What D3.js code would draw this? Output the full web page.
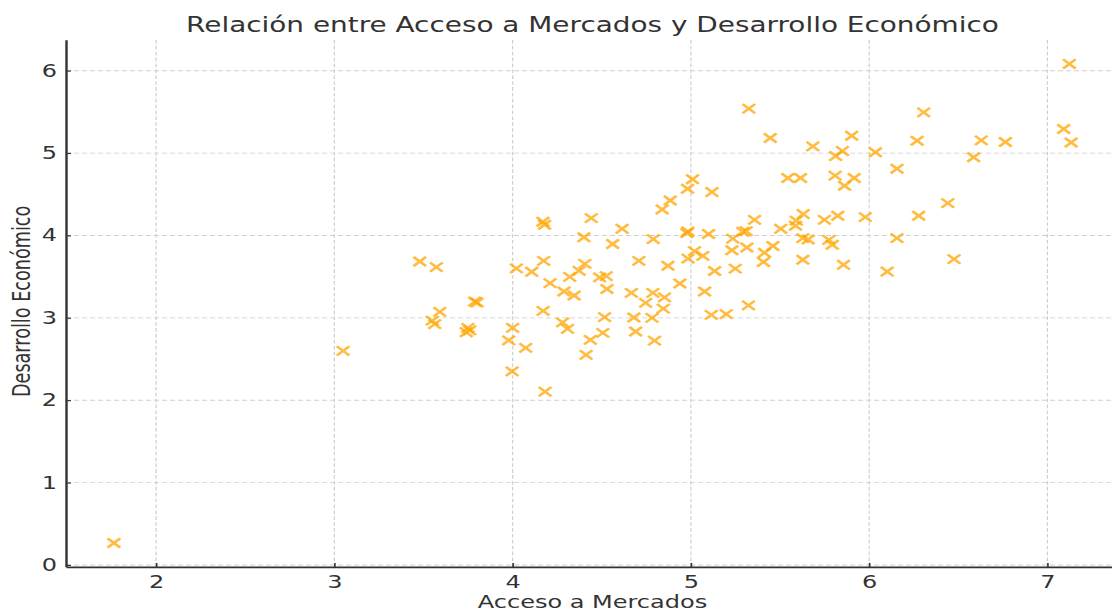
<!DOCTYPE html>
<html>
<head>
<meta charset="utf-8">
<script src="https://cdn.jsdelivr.net/npm/d3@7"></script>
<style>
  body { margin: 0; background: #fff; overflow: hidden; }
  svg { display: block; }
  text { font-family: "DejaVu Sans", sans-serif; }
</style>
</head>
<body>
<div id="chart"></div>
<script>
// Data
const accesoMercados = [
  1.763, 3.049, 3.479, 3.572, 3.591, 3.549, 3.563, 3.787, 3.800, 3.749,
  3.740, 3.759, 4.000, 3.978, 4.073, 3.997, 4.182, 4.170, 4.179, 4.021,
  4.107, 4.174, 4.210, 4.171, 4.280, 4.308, 4.436, 4.506, 4.412, 4.441,
  4.400, 4.405, 4.373, 4.320, 4.288, 4.345, 4.488, 4.525, 4.529, 4.516,
  4.614, 4.561, 4.708, 4.666, 4.680, 4.690, 4.789, 4.787, 4.746, 4.852,
  4.845, 4.782, 4.796, 4.871, 4.938, 4.983, 4.977, 4.984, 5.020, 4.839,
  4.884, 4.981, 5.009, 5.325, 5.445, 5.684, 5.902, 5.850, 5.812, 6.035,
  6.306, 6.269, 6.156, 6.629, 6.586, 6.441, 6.278, 5.978, 6.156, 6.476,
  6.101, 5.856, 5.544, 5.615, 5.809, 5.916, 5.862, 5.118, 5.357, 5.630,
  5.591, 5.587, 5.749, 5.824, 5.504, 5.291, 5.310, 5.235, 5.099, 5.628,
  5.658, 5.774, 5.793, 5.460, 5.314, 5.230, 5.413, 5.407, 5.067, 5.628,
  5.133, 5.249, 5.077, 5.323, 5.114, 5.198, 7.123, 7.091, 7.133, 6.764
];
const desarrolloEconomico = [
  0.267, 2.599, 3.684, 3.616, 3.073, 2.967, 2.924, 3.198, 3.186, 2.879,
  2.826, 2.848, 2.879, 2.727, 2.636, 2.350, 2.105, 4.166, 4.130, 3.601,
  3.559, 3.692, 3.422, 3.085, 2.945, 2.866, 2.733, 2.818, 2.551, 4.211,
  3.978, 3.656, 3.571, 3.498, 3.320, 3.271, 3.492, 3.507, 3.350, 3.009,
  4.081, 3.896, 3.692, 3.304, 3.004, 2.834, 3.956, 3.304, 3.182, 3.249,
  3.112, 3.000, 2.724, 3.632, 3.417, 4.048, 4.029, 3.719, 3.810, 4.316,
  4.424, 4.567, 4.682, 5.539, 5.183, 5.081, 5.211, 5.026, 4.964, 5.010,
  5.494, 5.150, 4.810, 5.154, 4.950, 4.393, 4.239, 4.223, 3.968, 3.713,
  3.562, 3.644, 4.697, 4.697, 4.727, 4.697, 4.603, 4.527, 4.190, 4.260,
  4.181, 4.118, 4.190, 4.239, 4.081, 4.045, 4.053, 3.962, 4.018, 3.968,
  3.951, 3.947, 3.887, 3.872, 3.854, 3.821, 3.790, 3.678, 3.753, 3.705,
  3.569, 3.598, 3.320, 3.152, 3.037, 3.045, 6.082, 5.292, 5.129, 5.134
];
const xTicks = [2, 3, 4, 5, 6, 7];
const yTicks = [0, 1, 2, 3, 4, 5, 6];

const titleText = "Relación entre Acceso a Mercados y Desarrollo Económico";
const xLabel = "Acceso a Mercados";
const yLabel = "Desarrollo Económico";

// The reference is squashed vertically, so draw on a taller canvas
// and let the viewBox squeeze it into the window.
const outW = 1112, outH = 613;
const W = 1112, H = 834;

const margin = { top: 54.4, left: 66 };
const plotRight = 1119;
const plotBottom = 771.4;

const svg = d3.select("#chart")
  .append("svg")
    .attr("width", outW)
    .attr("height", outH)
    .attr("viewBox", "0 0 " + W + " " + H)
    .attr("preserveAspectRatio", "none");

const data = accesoMercados.map((v, i) => ({ x: v, y: desarrolloEconomico[i] }));

// 5% padding like matplotlib's auto margins
function padded(ext) {
  const p = (ext[1] - ext[0]) * 0.05;
  return [ext[0] - p, ext[1] + p];
}

const x = d3.scaleLinear()
  .domain(padded(d3.extent(accesoMercados)))
  .range([margin.left, plotRight]);

const y = d3.scaleLinear()
  .domain(padded(d3.extent(desarrolloEconomico)))
  .range([plotBottom, margin.top]);

// Grid
const grid = svg.append("g")
  .attr("stroke", "#cfcfcf")
  .attr("stroke-width", 1.2)
  .attr("stroke-dasharray", "5,3");

grid.selectAll(".gx")
  .data(xTicks)
  .join("line")
    .attr("x1", d => x(d)).attr("x2", d => x(d))
    .attr("y1", margin.top).attr("y2", plotBottom);

grid.selectAll(".gy")
  .data(yTicks)
  .join("line")
    .attr("x1", margin.left).attr("x2", plotRight)
    .attr("y1", d => y(d)).attr("y2", d => y(d));

// Axes
const xAxis = svg.append("g")
  .attr("transform", "translate(0," + plotBottom + ")")
  .style("color", "#333")
  .call(d3.axisBottom(x)
    .tickValues(xTicks)
    .tickFormat(d3.format("d"))
    .tickSizeInner(-5.5)
    .tickSizeOuter(0)
    .tickPadding(11));
xAxis.select(".domain").attr("stroke-width", 2.4);
xAxis.selectAll(".tick line").attr("stroke-width", 1.6);
xAxis.selectAll("text")
  .attr("font-size", 24)
  .attr("font-family", "DejaVu Sans, sans-serif");

const yAxis = svg.append("g")
  .attr("transform", "translate(" + margin.left + ",0)")
  .style("color", "#333")
  .call(d3.axisLeft(y)
    .tickValues(yTicks)
    .tickFormat(d3.format("d"))
    .tickSizeInner(-5)
    .tickSizeOuter(0)
    .tickPadding(9));
yAxis.select(".domain").attr("stroke-width", 2.4);
yAxis.selectAll(".tick line").attr("stroke-width", 1.6);
yAxis.selectAll("text")
  .attr("font-size", 24)
  .attr("font-family", "DejaVu Sans, sans-serif");

// Points, drawn as "x" markers
const r = 6.3;
svg.append("g")
  .selectAll("path")
  .data(data)
  .join("path")
    .attr("transform", d => "translate(" + x(d.x) + "," + y(d.y) + ")")
    .attr("d", "M" + (-r) + "," + (-r) + "L" + r + "," + r + "M" + (-r) + "," + r + "L" + r + "," + (-r))
    .attr("fill", "none")
    .attr("stroke", "#ffa500")
    .attr("stroke-opacity", 0.75)
    .attr("stroke-width", 3.1);

// Title and labels
svg.append("text")
  .attr("x", (margin.left + plotRight) / 2)
  .attr("y", 43.5)
  .attr("text-anchor", "middle")
  .attr("font-size", 27.9)
  .attr("fill", "#333")
  .text(titleText);

svg.append("text")
  .attr("x", (margin.left + plotRight) / 2)
  .attr("y", 827)
  .attr("text-anchor", "middle")
  .attr("font-size", 24)
  .attr("fill", "#333")
  .text(xLabel);

svg.append("text")
  .attr("transform", "translate(30," + (y(3.2)) + ") rotate(-90)")
  .attr("text-anchor", "middle")
  .attr("font-size", 24)
  .attr("fill", "#333")
  .text(yLabel);
</script>
</body>
</html>
